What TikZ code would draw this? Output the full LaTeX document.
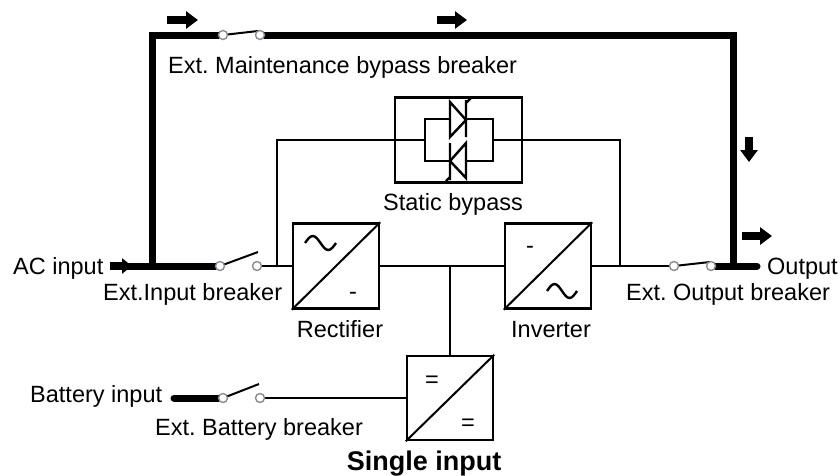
\documentclass[tikz,border=0pt]{standalone}
\usepackage{fontspec}
\setmainfont{Liberation Sans}
\usepackage{tikz}
\usetikzlibrary{calc}
\usetikzlibrary{arrows.meta}
\frenchspacing

\tikzset{
  conv/.style={draw, line width=2.5pt, minimum width=86pt, minimum height=85pt, inner sep=0pt},
  bus/.style={line width=7pt},
  wire/.style={line width=2pt},
  sym/.style={line width=2.4pt},
  term/.style={circle, draw=termgray, fill=white, line width=1.4pt, minimum size=9pt, inner sep=0pt},
  flow/.style={line width=8pt, -{Triangle[length=12pt,width=17pt]}},
  lbl/.style={inner sep=0pt, font=\fontsize{23.5}{28}\selectfont},
}

\begin{document}
\begin{tikzpicture}[x=1pt,y=-1pt]
    \definecolor{termgray}{rgb}{0.55,0.55,0.58}
    \useasboundingbox (0,0) rectangle (840,475);
    %boxes
    \node[conv] (rect) at (336,266) {};
    \node[conv] (inv) at (548,266) {};
    \node[conv, minimum height=84pt] (batconv) at (450,398) {};
    \node[draw, line width=2.5pt, minimum width=127pt, minimum height=85pt, inner sep=0pt] (byp) at (458.5,140) {};
    \node[draw, line width=2.5pt, minimum width=68pt, minimum height=42pt, inner sep=0pt] (byin) at (459,140) {};
    \draw[wire] (rect.south west) -- (rect.north east);
    \draw[wire] (inv.south west) -- (inv.north east);
    \draw[wire] (batconv.south west) -- (batconv.north east);
    %switch points
    \coordinate (mbA) at (223,35);
    \coordinate (mbB) at (260,35);
    \coordinate (inA) at (220,266);
    \coordinate (inB) at (257,266);
    \coordinate (outA) at (674,266);
    \coordinate (outB) at (711,266);
    \coordinate (batA) at (223,398);
    \coordinate (batB) at (260,398);
    \coordinate (lc) at (152,266);
    \coordinate (rc) at (733,266);
    \coordinate (rtap) at (277,266);
    \coordinate (itap) at (620,266);
    %bus
    \draw[bus] (125,266) -- (inA);
    \draw[bus] (lc) |- (mbA);
    \draw[bus] (mbB) -| (rc) -- (outB);
    \draw[bus, line cap=round] (rc) -- (757,266);
    \draw[bus, line cap=round] (174,398) -- (batA);
    %wires
    \draw[wire] (inB) -- (rect.west);
    \draw[wire] (rtap) |- (byp.west) -- (byin.west);
    \draw[wire] (byin.east) -- (byp.east) -| (itap);
    \draw[wire] (rect.east) -- (inv.west);
    \draw[wire] (inv.east) -- (outA);
    \draw[wire] (batconv.north |- rect.east) -- (batconv.north);
    \draw[wire] (batB) -- (batconv.west);
    %blades
    \draw[wire] (mbA) -- ++(35,-4);
    \draw[wire] (inA) -- ++(38,-14);
    \draw[wire] (outA) -- ++(36,-4);
    \draw[wire] (batA) -- ++(36,-14);
    \foreach \t in {mbA,mbB,inA,inB,outA,outB,batA,batB}
        \node[term] at (\t) {};
    %thyristors
    \filldraw[sym, fill=white] (450,102) -- (466,120) -- (450,137) -- cycle;
    \draw[sym] (466,100) -- (466,137) (466,103) -- (471,98);
    \filldraw[sym, fill=white] (466,143) -- (450,161) -- (466,178) -- cycle;
    \draw[sym] (450,143) -- (450,180) (450,177) -- (446,181);
    %signs
    \draw[sym] (rect.center) ++(-31,-23) sin ++(7.75,-7) cos ++(7.75,7) sin ++(7.75,7) cos ++(7.75,-7);
    \draw[sym] (inv.center) ++(-1,25) sin ++(7.5,-7) cos ++(7.5,7) sin ++(7.5,7) cos ++(7.5,-7);
    \node[lbl] at (353,296) {-};
    \node[lbl] at (530,250) {-};
    \node[lbl] at (432,382) {=};
    \node[lbl] at (468,425) {=};
    %arrows
    \draw[flow] (167,20) -- (198,20);
    \draw[flow] (437,20) -- (467,20);
    \draw[flow] (749,137) -- (749,162);
    \draw[flow] (742,236) -- (772,236);
    \draw[flow, -{Triangle[length=10pt,width=15pt]}] (110,266) -- (132,266);

    %labels
    \node[lbl, anchor=base west] at (168,73) {Ext. Maintenance bypass breaker};
    \node[lbl, anchor=base] at (453,210) {Static bypass};
    \node[lbl, anchor=base] at (340,337) {Rectifier};
    \node[lbl, anchor=base] at (551,337) {Inverter};
    \node[lbl, anchor=base west] at (13,274) {AC input};
    \node[lbl, anchor=base west] at (103,300) {Ext.Input breaker};
    \node[lbl, anchor=base west] at (626,300) {Ext. Output breaker};
    \node[lbl, anchor=base west] at (767,274) {Output};
    \node[lbl, anchor=base west] at (30,402) {Battery input};
    \node[lbl, anchor=base west] at (155,435) {Ext. Battery breaker};
    \node[lbl, anchor=base, font=\bfseries\fontsize{27}{32}\selectfont] at (424,470) {Single input};
\end{tikzpicture}
\end{document}
